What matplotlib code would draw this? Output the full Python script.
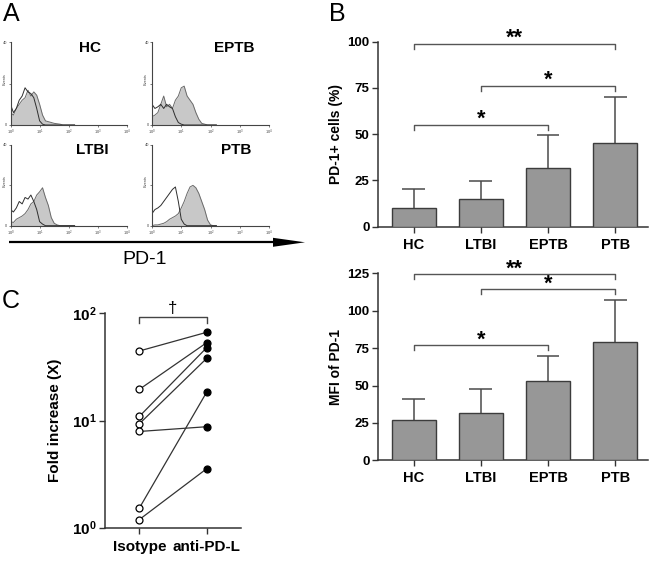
import numpy as np
import matplotlib
matplotlib.use('Agg')
import matplotlib.pyplot as plt
from matplotlib.ticker import FixedLocator, FixedFormatter, NullLocator

plt.rcParams['font.family'] = ['Liberation Sans', 'DejaVu Sans']
plt.rcParams['mathtext.fontset'] = 'custom'
plt.rcParams['mathtext.rm'] = 'Liberation Sans'
plt.rcParams['mathtext.bf'] = 'Liberation Sans:bold'

# ---------------- data ----------------
groups = ['HC', 'LTBI', 'EPTB', 'PTB']
pd1_pct_mean = [10.0, 14.8, 31.5, 45.2]
pd1_pct_sd = [10.4, 10.1, 18.0, 25.1]
pd1_mfi_mean = [26.9, 31.8, 53.2, 79.1]
pd1_mfi_sd = [13.9, 15.9, 16.5, 28.0]

# significance brackets: (from group, to group, height, label)
pct_brackets = [(0, 3, 99.0, '**'), (1, 3, 76.0, '*'), (0, 2, 55.0, '*')]
mfi_brackets = [(0, 3, 124.5, '**'), (1, 3, 114.3, '*'), (0, 2, 77.0, '*')]

# panel C
c_conditions = ['Isotype', 'anti-PD-L']
fold_isotype = [44.5, 19.5, 10.9, 9.3, 7.9, 1.52, 1.19]
fold_antipdl = [66.5, 53.2, 47.8, 38.0, 8.75, 18.4, 3.55]

# panel A flow histograms (log10 fluorescence bins, normalised counts)
hist_log_bins = [0.0, 0.1, 0.2, 0.3, 0.4, 0.5, 0.6, 0.7, 0.8, 0.9, 1.0, 1.1,
                 1.2, 1.3, 1.4, 1.5, 1.6, 1.7, 1.8, 1.9, 2.0, 2.1, 2.2]
hc_pd1 = [0.15, 0.12, 0.20, 0.25, 0.30, 0.33, 0.42, 0.35, 0.40, 0.36, 0.25, 0.12,
          0.05, 0.04, 0.03, 0.02, 0.015, 0.01, 0, 0, 0, 0, 0]
hc_iso = [0.25, 0.15, 0.20, 0.30, 0.35, 0.45, 0.40, 0.38, 0.33, 0.20, 0.05, 0.01,
          0, 0, 0, 0, 0, 0, 0, 0, 0, 0, 0]
eptb_pd1 = [0.10, 0.12, 0.15, 0.25, 0.35, 0.22, 0.25, 0.20, 0.30, 0.35, 0.45, 0.47,
            0.35, 0.30, 0.25, 0.15, 0.07, 0.02, 0.01, 0, 0, 0, 0]
eptb_iso = [0.25, 0.20, 0.22, 0.25, 0.20, 0.25, 0.22, 0.20, 0.10, 0.03, 0.01, 0,
            0, 0, 0, 0, 0, 0, 0, 0, 0, 0, 0]
ltbi_pd1 = [0.05, 0.04, 0.08, 0.10, 0.12, 0.15, 0.20, 0.27, 0.30, 0.38, 0.42, 0.47,
            0.35, 0.25, 0.10, 0.03, 0.01, 0, 0, 0, 0, 0, 0]
ltbi_iso = [0.20, 0.17, 0.22, 0.30, 0.27, 0.35, 0.33, 0.38, 0.30, 0.20, 0.05, 0.02,
            0, 0, 0, 0, 0, 0, 0, 0, 0, 0, 0]
ptb_pd1 = [0.0, 0.01, 0.01, 0.02, 0.03, 0.05, 0.08, 0.10, 0.12, 0.15, 0.22, 0.30,
           0.40, 0.48, 0.50, 0.47, 0.40, 0.30, 0.20, 0.07, 0.01, 0, 0]
ptb_iso = [0.15, 0.20, 0.22, 0.25, 0.30, 0.35, 0.40, 0.45, 0.48, 0.30, 0.08, 0.02,
           0, 0, 0, 0, 0, 0, 0, 0, 0, 0, 0]

# ---------------- figure ----------------
W, H = 650, 563
fig = plt.figure(figsize=(6.5, 5.63), dpi=100)


def pax(l, t, r, b):
    return fig.add_axes([l / W, 1 - b / H, (r - l) / W, (b - t) / H])


def ptext(x, y, s, **kw):
    return fig.text(x / W, 1 - y / H, s, **kw)


# overlay for arrow
ov = fig.add_axes([0, 0, 1, 1], zorder=-5)
ov.set_xlim(0, W)
ov.set_ylim(H, 0)
ov.axis('off')
ov.plot([9, 276], [242.3, 242.3], color='black', lw=1.6, solid_capstyle='butt')
ov.fill([273, 305, 273], [237.8, 242.3, 246.8], color='black', lw=0)

# ---------------- panel A ----------------
def draw_hist(box, pd1, iso, label, lab_xy):
    ax = pax(*box)
    x = 10 ** np.array(hist_log_bins)
    ax.fill_between(x, pd1, color='#c8c8c8', lw=0)
    ax.plot(x, pd1, color='#6a6a6a', lw=0.7)
    ax.plot(x, iso, color='#2e2e2e', lw=0.7)
    ax.set_xscale('log')
    ax.set_xlim(1, 1e4)
    ax.set_ylim(0, 1)
    for s in ['top', 'right']:
        ax.spines[s].set_visible(False)
    for s in ['left', 'bottom']:
        ax.spines[s].set_color('#444444')
        ax.spines[s].set_linewidth(0.8)
    ax.xaxis.set_major_locator(FixedLocator([1, 10, 100, 1000, 10000]))
    ax.xaxis.set_minor_locator(NullLocator())
    ax.xaxis.set_major_formatter(FixedFormatter([r'$10^0$', r'$10^1$', r'$10^2$', r'$10^3$', r'$10^4$']))
    ax.yaxis.set_major_locator(FixedLocator([0, 0.5, 1]))
    ax.yaxis.set_major_formatter(FixedFormatter(['0', '', '40']))
    ax.tick_params(length=1.5, width=0.5, labelsize=2.8, pad=0.8, colors='#444444')
    ax.set_ylabel('Events', fontsize=2.8, color='#444444')
    ax.yaxis.set_label_coords(-0.035, 0.55)
    ax.patch.set_alpha(0)
    ptext(lab_xy[0], lab_xy[1], label, fontsize=11, fontweight='bold',
          ha='center', va='center')
    return ax


draw_hist((10.5, 42.3, 127, 125), hc_pd1, hc_iso, 'HC', (90, 48))
draw_hist((152, 42.3, 269, 125), eptb_pd1, eptb_iso, 'EPTB', (234.5, 47.5))
draw_hist((10.5, 145, 127, 225.7), ltbi_pd1, ltbi_iso, 'LTBI', (92, 150.5))
draw_hist((152, 145, 269, 225.7), ptb_pd1, ptb_iso, 'PTB', (235.8, 150.5))

ptext(145, 259.5, 'PD-1', fontsize=14, ha='center', va='center')

# panel letters
ptext(3, 14, 'A', fontsize=18, ha='left', va='center')
ptext(329, 14, 'B', fontsize=18, ha='left', va='center')
ptext(2, 301, 'C', fontsize=18, ha='left', va='center')

# ---------------- panel B ----------------
def bar_panel(box, means, sds, yticks, ylim, ylabel, brackets, drop, label_y):
    ax = pax(*box)
    x = np.arange(len(groups))
    m = np.array(means)
    top = m + np.array(sds)
    ax.vlines(x, m, top, color='#4a4a4a', lw=1.1, zorder=2)
    ax.hlines(top, x - 0.17, x + 0.17, color='#4a4a4a', lw=1.1, zorder=2)
    ax.bar(x, means, width=0.66, color='#979797', edgecolor='#3c3c3c', lw=1.0, zorder=3)
    ax.set_xlim(-0.532, 3.49)
    ax.set_ylim(*ylim)
    for s in ['top', 'right']:
        ax.spines[s].set_visible(False)
    for s in ['left', 'bottom']:
        ax.spines[s].set_color('#333333')
        ax.spines[s].set_linewidth(1.1)
    ax.set_xticks(x)
    ax.set_xticklabels(groups, fontsize=10.5, fontweight='bold')
    ax.set_yticks(yticks)
    ax.set_yticklabels([str(v) for v in yticks], fontsize=9.5, fontweight='bold')
    ax.tick_params(axis='both', length=4, width=1.0, color='#333333', pad=2)
    ax.tick_params(axis='x', pad=4)
    ax.set_ylabel(ylabel, fontsize=10, fontweight='bold')
    ax.yaxis.set_label_coords(-0.128, 0.5)
    for (i, j, yb, lab) in brackets:
        ax.plot([i, i, j, j], [yb - drop, yb, yb, yb - drop], color='#555555',
                lw=1.0, clip_on=False, zorder=4)
        ax.text((i + j) / 2, yb + label_y, lab, fontsize=15.5, fontweight='bold',
                ha='center', va='center', clip_on=False)
    return ax


bar_panel((378, 41.7, 648, 226.7), pd1_pct_mean, pd1_pct_sd,
          [0, 25, 50, 75, 100], (0, 100), 'PD-1+ cells (%)', pct_brackets, 2.7, 3.0)
bar_panel((378, 273.3, 648, 460.3), pd1_mfi_mean, pd1_mfi_sd,
          [0, 25, 50, 75, 100, 125], (0, 125), 'MFI of PD-1', mfi_brackets, 3.3, 3.5)

# ---------------- panel C ----------------
axc = pax(105.3, 313.3, 241, 527.7)
for a, b in zip(fold_isotype, fold_antipdl):
    axc.plot([0, 1], [a, b], color='#333333', lw=0.9, zorder=2)
axc.plot(np.zeros(len(fold_isotype)), fold_isotype, 'o', mfc='white', mec='black',
         ms=5, mew=0.9, zorder=3, clip_on=False)
axc.plot(np.ones(len(fold_antipdl)), fold_antipdl, 'o', mfc='black', mec='black',
         ms=5, mew=0.9, zorder=3, clip_on=False)
axc.set_yscale('log')
axc.set_ylim(1, 100)
axc.set_xlim(-0.504, 1.509)
for s in ['top', 'right']:
    axc.spines[s].set_visible(False)
for s in ['left', 'bottom']:
    axc.spines[s].set_color('#333333')
    axc.spines[s].set_linewidth(1.1)
axc.yaxis.set_major_locator(FixedLocator([1, 10, 100]))
axc.yaxis.set_minor_locator(NullLocator())
axc.yaxis.set_major_formatter(FixedFormatter([r'$\mathbf{10^{0}}$', r'$\mathbf{10^{1}}$', r'$\mathbf{10^{2}}$']))
axc.set_xticks([0, 1])
axc.set_xticklabels(c_conditions, fontsize=11, fontweight='bold')
axc.tick_params(axis='both', length=4, width=1.0, color='#333333', pad=2)
axc.tick_params(axis='y', labelsize=11)
axc.tick_params(axis='x', pad=5)
axc.set_ylabel('Fold increase (X)', fontsize=11, fontweight='bold')
axc.yaxis.set_label_coords(-0.319, 0.5)
axc.plot([0, 0, 1, 1], [81.7, 92.9, 92.9, 81.7], color='#444444', lw=1.0,
         clip_on=False)
axc.text(0.5, 112, '\u2020', fontsize=12, ha='center', va='center', clip_on=False)

fig.savefig('out.png', dpi=100)
